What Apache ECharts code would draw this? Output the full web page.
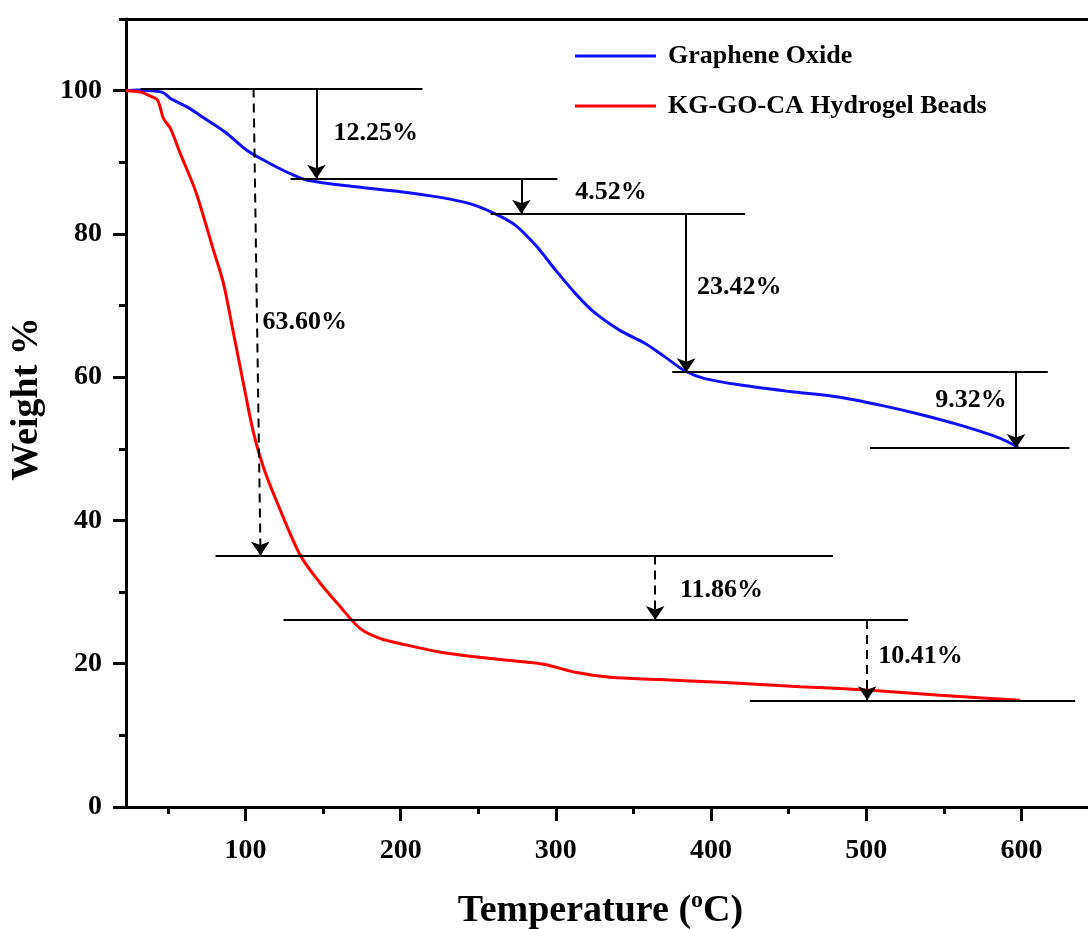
<!DOCTYPE html>
<html>
<head>
<meta charset="utf-8">
<script src="https://cdn.jsdelivr.net/npm/echarts@6/dist/echarts.min.js"></script>
<style>
html,body{margin:0;padding:0;background:#fff;overflow:hidden;}
#chart{width:1088px;height:929px;}
</style>
</head>
<body>
<div id="chart"></div>
<script>
// ---- data ----
const tempGO   = [23, 30, 39, 47.2, 51.7, 62.6, 71, 87, 101.3, 116, 129, 140, 174, 200, 225.6, 245, 261, 274, 287, 300, 312.5, 325, 341.5, 357.6, 370.5, 383, 396, 419, 451, 483, 509, 535, 560.5, 586, 598];
const weightGO = [100, 100.1, 100, 99.7, 98.9, 97.7, 96.5, 94.2, 91.6, 89.8, 88.4, 87.5, 86.5, 85.9, 85.1, 84.2, 82.8, 81.2, 78.4, 74.9, 71.7, 69.0, 66.5, 64.7, 62.8, 60.9, 59.8, 58.9, 58.0, 57.2, 56.1, 54.8, 53.3, 51.5, 50.2];

const tempKG   = [23, 32.4, 39, 43.3, 47.2, 51.7, 58, 67.8, 79.4, 85.8, 92.3, 98.7, 105.2, 111.6, 120.6, 135.4, 148.3, 159.3, 174, 187, 200, 225.6, 251, 277, 293, 312.5, 335, 367, 406, 457.5, 502.5, 547.6, 599];
const weightKG = [100, 99.8, 99.2, 98.7, 96.1, 94.7, 91.2, 86.0, 77.7, 73.1, 66.1, 59.1, 52.2, 47.4, 42.4, 35.1, 31.2, 28.4, 24.9, 23.5, 22.8, 21.6, 20.9, 20.3, 19.9, 18.8, 18.1, 17.8, 17.4, 16.8, 16.3, 15.6, 14.9];

const seriesNames = ['Graphene Oxide', 'KG-GO-CA Hydrogel Beads'];

// x-axis tick labels / minor ticks, y-axis ticks
const xMajorTicks = [100, 200, 300, 400, 500, 600];
const xMinorTicks = [50, 150, 250, 350, 450, 550];
const yMajorTicks = [0, 20, 40, 60, 80, 100];

// annotation guide lines: [x1, x2, y]
const guideLines = [
  [32.4, 214, 100.3],
  [129, 301, 87.7],
  [258, 422, 82.8],
  [375, 617, 60.7],
  [502.5, 631, 50.1],
  [80.7, 478.7, 35.1],
  [124.5, 527, 26.1],
  [425, 634.6, 14.9]
];
// arrows: [xStart, yStart, xEnd, yEnd, dashed]
const arrows = [
  [145.7, 100.3, 145.7, 87.7, 0],
  [277.8, 87.7, 277.8, 82.8, 0],
  [384, 82.8, 384, 60.7, 0],
  [596.6, 60.7, 596.6, 50.1, 0],
  [105.2, 100.3, 109.7, 35.1, 1],
  [364, 35.1, 364, 26.1, 1],
  [500.6, 26.1, 500.6, 14.9, 1]
];
// percentage labels (left edge x, centre y)
const lossLabels = ['12.25%', '4.52%', '23.42%', '9.32%', '63.60%', '11.86%', '10.41%'];
const lossLabelX = [156.7, 312.5, 391, 544.4, 111, 380, 507.7];
const lossLabelY = [94.1, 85.8, 72.5, 56.8, 67.6, 30.2, 21.0];

// ---- chart ----
const FONT = '"Liberation Serif", "Times New Roman", serif';
const X_MIN = 23, X_MAX = 650;

function zip(a, b) { return a.map((v, i) => [v, b[i]]); }

const chart = echarts.init(document.getElementById('chart'), null, {renderer: 'canvas'});

const baseX = {
  type: 'value', min: X_MIN, max: X_MAX,
  splitLine: {show: false}
};

const option = {
  animation: false,
  backgroundColor: '#fff',
  grid: {
    left: 126, width: 973, top: 19, height: 788,
    show: false, containLabel: false, outerBoundsMode: 'none'
  },
  legend: {
    orient: 'vertical', left: 570, top: 36,
    icon: 'rect', itemWidth: 81, itemHeight: 3, itemGap: 20,
    data: seriesNames,
    textStyle: {fontFamily: FONT, fontWeight: 'bold', fontSize: 26, color: '#000', lineHeight: 30, padding: [0, 0, 0, 7]}
  },
  xAxis: [
    Object.assign({}, baseX, {
      position: 'bottom',
      axisLine: {show: true, onZero: false, lineStyle: {color: '#000', width: 3}},
      axisTick: {show: true, length: 14, lineStyle: {width: 3, color: '#000'}, customValues: xMajorTicks},
      axisLabel: {show: true, customValues: xMajorTicks, margin: 30, fontFamily: FONT, fontWeight: 'bold', fontSize: 28, color: '#000'},
      name: 'Temperature ({sup|o}C)', nameLocation: 'middle', nameGap: 82,
      nameTextStyle: {
        fontFamily: FONT, fontWeight: 'bold', fontSize: 38, color: '#000', padding: [0, 24, 0, 0],
        rich: {sup: {fontFamily: FONT, fontWeight: 'bold', fontSize: 24, color: '#000', padding: [0, 0, 20, 0]}}
      }
    }),
    Object.assign({}, baseX, {
      position: 'bottom',
      axisLine: {show: false, onZero: false},
      axisTick: {show: true, length: 7, lineStyle: {width: 3, color: '#000'}, customValues: xMinorTicks},
      axisLabel: {show: false}
    }),
    Object.assign({}, baseX, {
      position: 'top',
      axisLine: {show: true, onZero: false, lineStyle: {color: '#000', width: 3}},
      axisTick: {show: false},
      axisLabel: {show: false}
    })
  ],
  yAxis: [
    {
      type: 'value', min: 0, max: 110, interval: 20, position: 'left',
      splitLine: {show: false},
      axisLine: {show: true, onZero: false, lineStyle: {color: '#000', width: 3}},
      axisTick: {show: true, length: 13, lineStyle: {width: 3, color: '#000'}, customValues: yMajorTicks},
      axisLabel: {show: true, customValues: yMajorTicks, margin: 24, fontFamily: FONT, fontWeight: 'bold', fontSize: 28, color: '#000'},
      name: 'Weight %', nameLocation: 'middle', nameRotate: 90, nameGap: 80,
      nameTextStyle: {fontFamily: FONT, fontWeight: 'bold', fontSize: 38, color: '#000', padding: [0, 0, 0, 28]}
    },
    {
      type: 'value', min: 0, max: 110, interval: 10, position: 'left',
      splitLine: {show: false},
      axisLine: {show: false, onZero: false},
      axisTick: {show: true, length: 7, lineStyle: {width: 3, color: '#000'}},
      axisLabel: {show: false}
    }
  ],
  series: [
    {
      name: seriesNames[0], type: 'line', xAxisIndex: 0, yAxisIndex: 0,
      data: zip(tempGO, weightGO), symbol: 'none', smooth: 0.3,
      color: '#1010ff', lineStyle: {width: 3, color: '#1010ff'}, z: 3
    },
    {
      name: seriesNames[1], type: 'line', xAxisIndex: 0, yAxisIndex: 0,
      data: zip(tempKG, weightKG), symbol: 'none', smooth: 0.3,
      color: '#ff0000', lineStyle: {width: 3, color: '#ff0000'}, z: 3
    },
    {
      type: 'lines', coordinateSystem: 'cartesian2d', xAxisIndex: 0, yAxisIndex: 0,
      symbol: 'none', z: 4, silent: true,
      lineStyle: {color: '#000', width: 2, opacity: 1},
      data: guideLines.map(g => ({coords: [[g[0], g[2]], [g[1], g[2]]]}))
    },
    {
      type: 'lines', coordinateSystem: 'cartesian2d', xAxisIndex: 0, yAxisIndex: 0,
      symbol: ['none', 'arrow'], symbolSize: [0, 14], z: 5, silent: true,
      lineStyle: {color: '#000', width: 2, opacity: 1},
      data: arrows.map(a => ({
        coords: [[a[0], a[1]], [a[2], a[3]]],
        lineStyle: {type: a[4] ? [9, 6] : 'solid', color: '#000', width: 2}
      }))
    },
    {
      type: 'scatter', xAxisIndex: 0, yAxisIndex: 0, symbolSize: 0.1, z: 6, silent: true,
      itemStyle: {color: '#000'},
      label: {show: true, position: 'right', distance: 0, formatter: p => p.name,
        fontFamily: FONT, fontWeight: 'bold', fontSize: 26, color: '#000', opacity: 1,
        textBorderWidth: 0},
      data: lossLabels.map((t, i) => ({name: t, value: [lossLabelX[i], lossLabelY[i]]}))
    }
  ]
};
chart.setOption(option);
</script>
</body>
</html>
